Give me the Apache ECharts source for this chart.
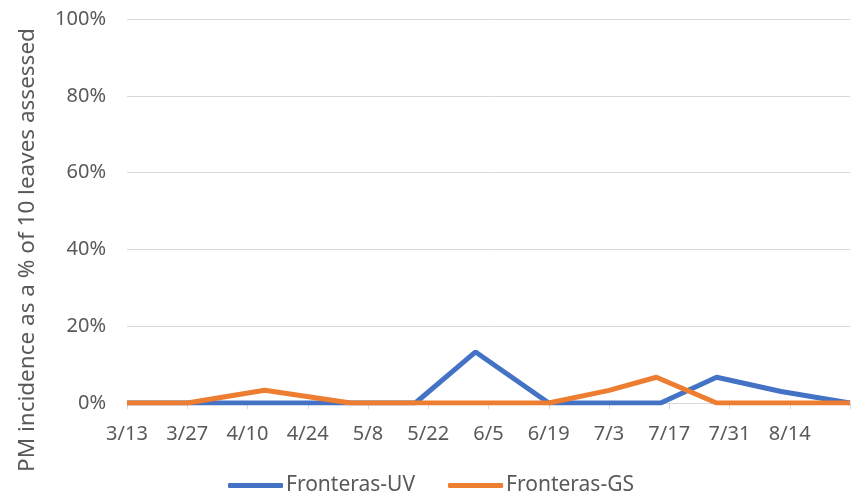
<!DOCTYPE html>
<html>
<head>
<meta charset="utf-8">
<script src="https://cdn.jsdelivr.net/npm/echarts@6/dist/echarts.min.js"></script>
<style>
  html, body { margin: 0; padding: 0; background: #fff; }
  #chart { width: 857px; height: 502px; }
</style>
</head>
<body>
<div id="chart"></div>
<script>
// data (values in %)
const xTickLabels = ['3/13', '3/27', '4/10', '4/24', '5/8', '5/22', '6/5', '6/19', '7/3', '7/17', '7/31', '8/14']
const uvDates = ['3/13', '3/27', '4/14', '5/4', '5/19', '6/2', '6/19', '7/3', '7/15', '7/28', '8/12', '8/28']
const uvValues = [0, 0, 0, 0, 0, 13.3, 0, 0, 0, 6.7, 3, 0]
const gsDates = ['3/13', '3/27', '4/14', '5/4', '5/19', '6/2', '6/19', '7/3', '7/14', '7/28', '8/12', '8/28']
const gsValues = [0, 0, 3.3, 0, 0, 0, 0, 3.3, 6.7, 0, 0, 0]
const yTitle = 'PM incidence as a % of 10 leaves assessed'

// days since 3/13
function dayOf(s) {
  let [m, d] = s.split('/').map(Number)
  return (Date.UTC(2021, m - 1, d) - Date.UTC(2021, 2, 13)) / 86400000
}

const chart = echarts.init(document.getElementById('chart'))
const textColor = '#595959'
const font = 'Noto Sans'

const option = {
  animation: false,
  grid: {
    left: 127,
    right: 7,
    top: 19,
    bottom: 99
  },
  // y axis title, placed by hand since it is not centred on the plot
  graphic: [{
    type: 'text',
    x: 28,
    y: 250,
    rotation: Math.PI / 2,
    style: {
      text: yTitle,
      fill: textColor,
      fontSize: 22.5,
      fontFamily: font,
      align: 'center',
      verticalAlign: 'middle'
    }
  }],
  legend: {
    left: 228,
    top: 475,
    padding: 0,
    icon: 'roundRect',
    itemWidth: 55,
    itemHeight: 5,
    itemGap: 33,
    textStyle: { color: textColor, fontSize: 21, fontFamily: font, padding: [0, 0, 0, -2] },
    data: ['Fronteras-UV', 'Fronteras-GS']
  },
  xAxis: {
    type: 'value',
    min: 0,
    max: 168,
    interval: 14,
    axisLine: { lineStyle: { color: '#d9d9d9', width: 1 } },
    axisTick: { show: true, length: 6, lineStyle: { color: '#d9d9d9' } },
    splitLine: { show: false },
    axisLabel: {
      color: textColor,
      fontSize: 20,
      fontFamily: font,
      margin: 21,
      formatter: v => xTickLabels[v / 14] || ''
    }
  },
  yAxis: {
    type: 'value',
    min: 0,
    max: 100,
    interval: 20,
    axisLine: { show: false },
    axisTick: { show: false },
    splitLine: { lineStyle: { color: '#d9d9d9', width: 1 } },
    axisLabel: {
      color: textColor,
      fontSize: 20,
      fontFamily: font,
      margin: 21,
      formatter: '{value}%'
    }
  },
  series: [
    {
      name: 'Fronteras-UV',
      type: 'line',
      symbol: 'none',
      color: '#4472C4',
      lineStyle: { width: 5 },
      data: uvDates.map((d, i) => [dayOf(d), uvValues[i]])
    },
    {
      name: 'Fronteras-GS',
      type: 'line',
      symbol: 'none',
      color: '#ED7D31',
      lineStyle: { width: 5 },
      data: gsDates.map((d, i) => [dayOf(d), gsValues[i]])
    }
  ]
}

chart.setOption(option)
</script>
</body>
</html>
